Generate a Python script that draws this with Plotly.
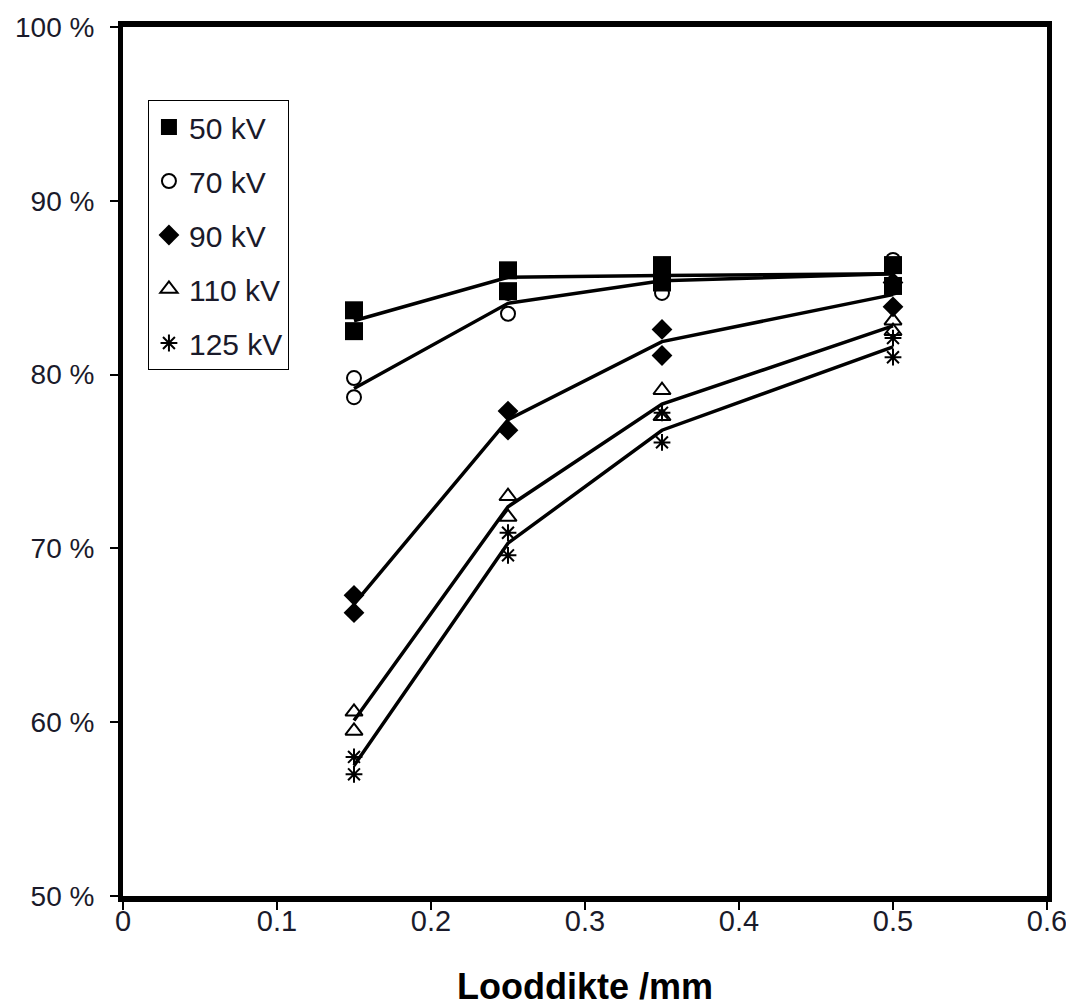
import plotly.graph_objects as go

# Looddikte (mm)
thickness = [0.15, 0.25, 0.35, 0.5]

series_names = ["50 kV", "70 kV", "90 kV", "110 kV", "125 kV"]

# two measurements per thickness for every tube voltage (%)
kv50_a = [83.7, 86.0, 86.3, 86.3]
kv50_b = [82.5, 84.8, 85.3, 85.1]
kv70_a = [79.8, 83.5, 84.7, 86.6]
kv70_b = [78.7, 84.7, 85.9, 85.0]
kv90_a = [67.3, 77.9, 82.6, 83.9]
kv90_b = [66.3, 76.8, 81.1, 85.3]
kv110_a = [60.6, 73.0, 79.1, 83.1]
kv110_b = [59.5, 71.8, 77.6, 82.5]
kv125_a = [58.0, 70.9, 77.8, 82.1]
kv125_b = [57.0, 69.6, 76.1, 81.0]

# connecting lines as drawn in the picture (%)
kv50_line = [83.1, 85.6, 85.7, 85.8]
kv70_line = [79.2, 84.1, 85.4, 85.8]
kv90_line = [66.8, 77.4, 81.9, 84.6]
kv110_line = [60.1, 72.4, 78.3, 82.8]
kv125_line = [57.5, 70.3, 76.8, 81.6]

x_ticks = [0, 0.1, 0.2, 0.3, 0.4, 0.5, 0.6]
y_ticks = [50, 60, 70, 80, 90, 100]

FONT = "Liberation Sans, Arial, sans-serif"

styles = [
    dict(symbol="square", size=18, color="black"),
    dict(symbol="circle-open", size=14, color="black", line=dict(width=2, color="black")),
    dict(symbol="diamond", size=16, color="black"),
    dict(symbol="triangle-up-open", size=15, color="black", line=dict(width=2, color="black")),
    dict(symbol="asterisk-open", size=14, color="black", line=dict(width=2, color="black")),
]

measured = [(kv50_a, kv50_b), (kv70_a, kv70_b), (kv90_a, kv90_b),
            (kv110_a, kv110_b), (kv125_a, kv125_b)]
lines = [kv50_line, kv70_line, kv90_line, kv110_line, kv125_line]

fig = go.Figure()

# lines first, markers on top
for name, yl in zip(series_names, lines):
    fig.add_trace(go.Scatter(
        x=thickness, y=yl, mode="lines",
        line=dict(color="black", width=3.5),
        showlegend=False, hoverinfo="skip", legendgroup=name,
    ))

for name, (ya, yb), st in zip(series_names, measured, styles):
    fig.add_trace(go.Scatter(
        x=thickness + thickness, y=ya + yb, mode="markers",
        marker=st, name=name, legendgroup=name,
    ))

# page body adds 8px around the figure, so size and margins are trimmed by that
fig.update_layout(
    width=1066, height=1000,
    margin=dict(l=115, r=27, t=19, b=112),
    plot_bgcolor="white", paper_bgcolor="white",
    font=dict(family=FONT, size=29, color="#1a1a2a"),
    legend=dict(
        x=0.027, y=0.916, xanchor="left", yanchor="top",
        bordercolor="black", borderwidth=1, bgcolor="white",
        traceorder="grouped", tracegroupgap=12,
        font=dict(size=30, color="#1a1a2a"),
    ),
)

fig.update_xaxes(
    range=[0, 0.6], tickvals=x_ticks, ticktext=[f"{v:g}" for v in x_ticks],
    showgrid=False, zeroline=False, automargin=False,
    showline=True, linecolor="black", linewidth=6, mirror=True,
    ticks="outside", ticklen=8, tickwidth=1.5, tickcolor="black",
    ticklabelstandoff=-14,
    title=dict(text="<b>Looddikte /mm</b>", font=dict(size=36, color="black"), standoff=40),
)
fig.update_yaxes(
    range=[50, 100], tickvals=y_ticks, ticktext=[f"{v} %" for v in y_ticks],
    tickfont=dict(size=28),
    showgrid=False, zeroline=False, automargin=False,
    showline=True, linecolor="black", linewidth=5, mirror=True,
    ticks="outside", ticklen=8, tickwidth=1.5, tickcolor="black",
    ticklabelstandoff=10,
)

fig.write_html("out.html")
